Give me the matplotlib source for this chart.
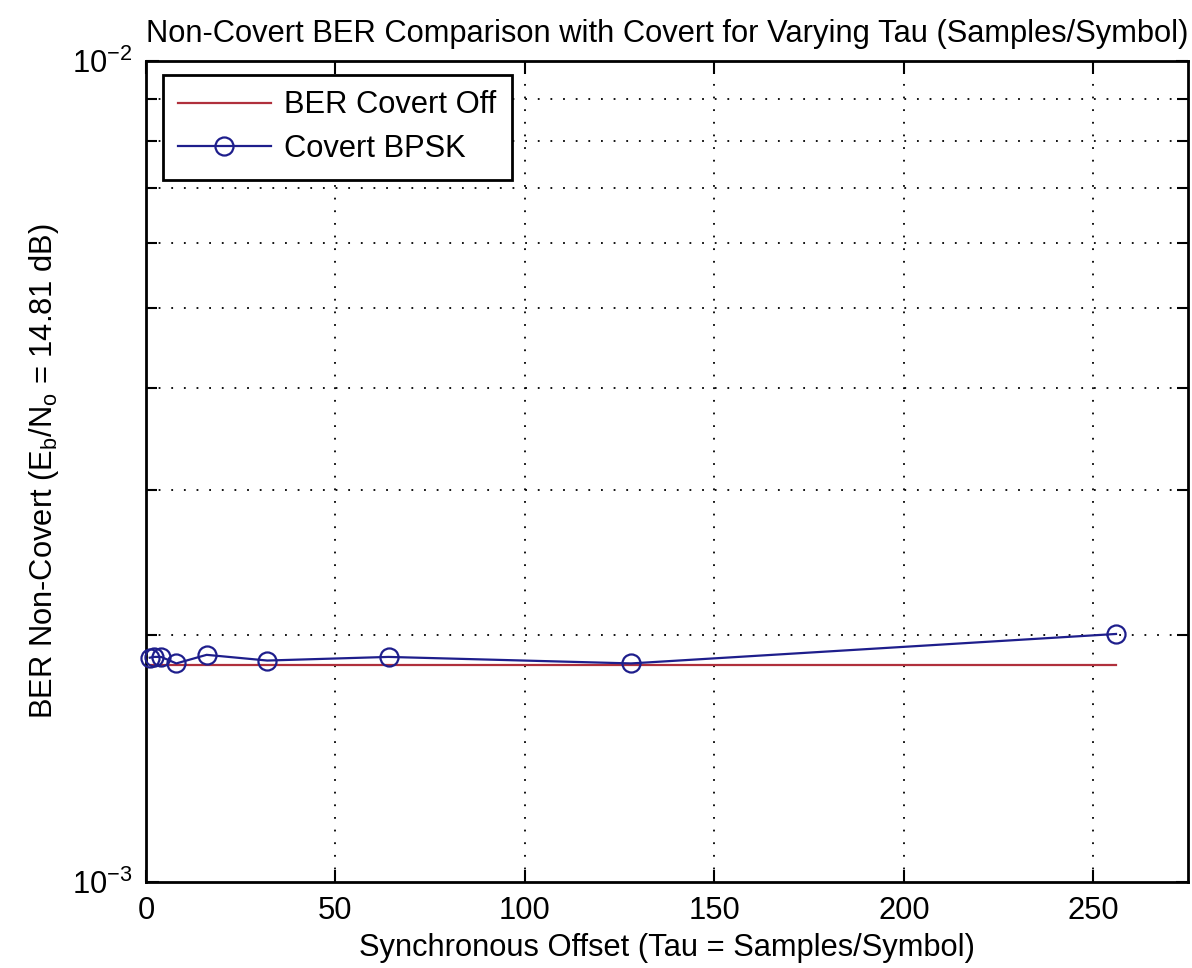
import matplotlib
matplotlib.use("Agg")
import matplotlib.pyplot as plt
from matplotlib.ticker import LogLocator, FixedLocator, NullFormatter

# ---- data ----
tau = [1, 2, 4, 8, 16, 32, 64, 128, 256]
ber_covert_bpsk = [1.876e-3, 1.880e-3, 1.880e-3, 1.846e-3, 1.891e-3, 1.861e-3, 1.880e-3, 1.846e-3, 2.005e-3]
ber_covert_off = [1.836e-3] * len(tau)
x_ticks = [0, 50, 100, 150, 200, 250]

plt.rcParams['font.family'] = ['Liberation Sans', 'DejaVu Sans']
plt.rcParams['mathtext.fontset'] = 'custom'
plt.rcParams['mathtext.rm'] = 'Liberation Sans'
plt.rcParams['mathtext.it'] = 'Liberation Sans'
plt.rcParams['mathtext.bf'] = 'Liberation Sans'
plt.rcParams['axes.unicode_minus'] = False

FS = 22.2

fig = plt.figure(figsize=(11.92, 9.68), dpi=100)
ax = fig.add_axes([146/1192, 1 - 882/968, (1188-146)/1192, (882-61)/968])

red = '#b0303c'
blue = '#1e1e8c'
ax.plot(tau, ber_covert_off, color=red, lw=1.6, label='BER Covert Off', zorder=3)
ax.plot(tau, ber_covert_bpsk, color=blue, lw=1.6, marker='o', ms=13,
        mfc='none', mec=blue, mew=1.6, label='Covert BPSK', zorder=4, clip_on=False)

ax.set_yscale('log')
ax.set_xlim(0, 275)
ax.set_ylim(1e-3, 1e-2)
ax.xaxis.set_major_locator(FixedLocator(x_ticks))
ax.yaxis.set_major_locator(LogLocator(base=10))
ax.yaxis.set_minor_locator(LogLocator(base=10, subs=range(2, 10)))
ax.yaxis.set_minor_formatter(NullFormatter())

grid_kw = dict(color='black', linestyle=(0, (1, 6)), linewidth=1.3)
ax.grid(True, which='major', axis='x', **grid_kw)
ax.grid(True, which='minor', axis='y', **grid_kw)
ax.set_axisbelow(True)

ax.tick_params(which='both', direction='in', top=True, right=True,
               labelsize=FS, width=1.5, colors='black')
ax.tick_params(which='major', length=9)
ax.tick_params(which='minor', length=8)
ax.tick_params(axis='x', pad=10)
ax.tick_params(axis='y', pad=10)
for s in ax.spines.values():
    s.set_linewidth(2.0)

ax.set_title('Non-Covert BER Comparison with Covert for Varying Tau (Samples/Symbol)',
             fontsize=FS, pad=14)
ax.set_xlabel('Synchronous Offset (Tau = Samples/Symbol)', fontsize=FS, labelpad=5)
ax.set_ylabel(r'BER Non-Covert ($\mathregular{E_b/N_o}$ = 14.81 dB)', fontsize=FS, labelpad=8)

leg = ax.legend(loc='upper left', bbox_to_anchor=(0.016, 0.983), fontsize=FS,
                frameon=True, fancybox=False, edgecolor='black', framealpha=1,
                handlelength=3.0, borderpad=0.5, labelspacing=0.45,
                handletextpad=0.45, borderaxespad=0)
leg.get_frame().set_linewidth(2.0)

fig.savefig('out.png', dpi=100)
